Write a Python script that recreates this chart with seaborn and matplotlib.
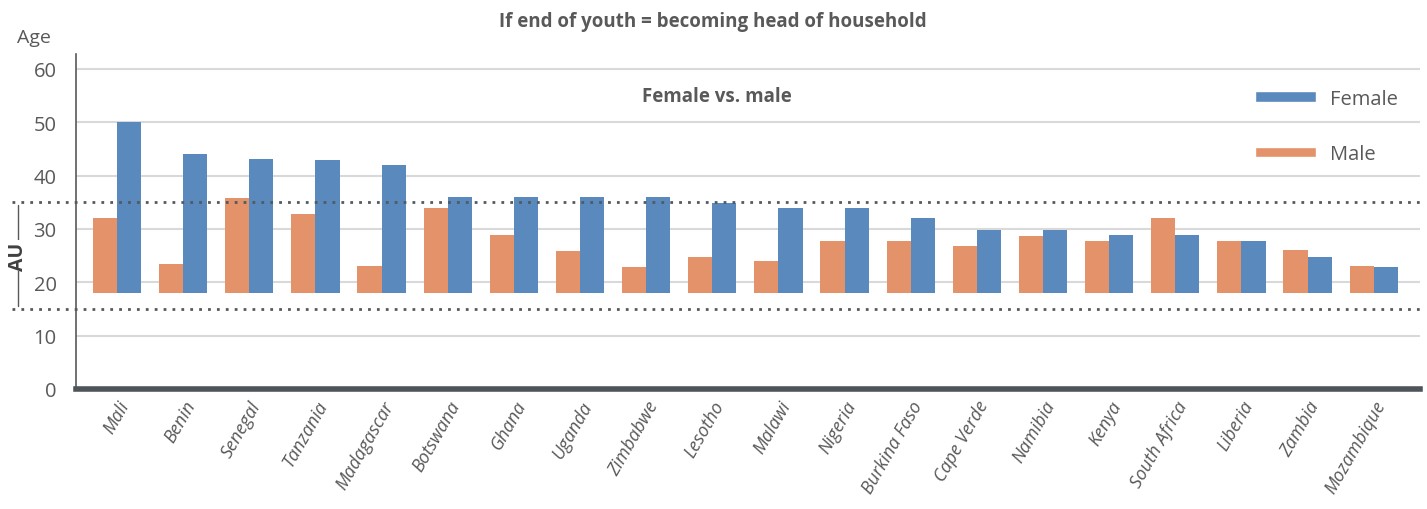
import matplotlib
matplotlib.use("Agg")
import matplotlib.pyplot as plt
import matplotlib.transforms as mtransforms
from matplotlib.patches import Patch
import seaborn as sns
import pandas as pd

# values (ages)
countries = ["Mali", "Benin", "Senegal", "Tanzania", "Madagascar", "Botswana", "Ghana",
             "Uganda", "Zimbabwe", "Lesotho", "Malawi", "Nigeria", "Burkina Faso",
             "Cape Verde", "Namibia", "Kenya", "South Africa", "Liberia", "Zambia", "Mozambique"]
male = [32, 23.5, 35.8, 32.8, 23, 34, 28.8, 25.8, 22.8, 24.8, 24, 27.7, 27.8,
        26.9, 28.6, 27.8, 32.1, 27.8, 26, 23]
female = [50, 44.1, 43.1, 43, 42, 36, 36, 36, 36, 34.8, 34, 34, 32,
          29.9, 29.9, 28.8, 28.8, 27.8, 24.8, 22.8]
bar_start = 18          # bars float from this age
au_range = [15, 35]     # AU youth definition
y_ticks = [0, 10, 20, 30, 40, 50, 60]

blue = "#5A89BD"
orange = "#E3926A"
grey = "#595959"

df = pd.DataFrame({
    "country": countries * 2,
    "sex": ["Male"] * len(countries) + ["Female"] * len(countries),
    "age": male + female,
})
df["span"] = df["age"] - bar_start

sns.set_style("white")
plt.rcParams["font.family"] = ["Open Sans", "DejaVu Sans"]

fig = plt.figure(figsize=(14.27, 5.10), dpi=100)
ax = fig.add_axes([76 / 1427, 1 - 390 / 510, (1420 - 76) / 1427, (390 - 55) / 510])

sns.barplot(data=df, x="country", y="span", hue="sex", hue_order=["Male", "Female"],
            palette={"Male": orange, "Female": blue}, width=0.73, bottom=bar_start,
            saturation=1, linewidth=0, edgecolor="none", gap=0,
            ax=ax, legend=False, zorder=3)

ax.set_ylim(0, 62.8)
ax.set_xlim(-0.62, len(countries) - 0.3)
ax.set_yticks(y_ticks)
ax.yaxis.grid(True, color="#D9D9D9", linewidth=1.5, zorder=0)
ax.set_axisbelow(True)
ax.set_xlabel("")
ax.set_ylabel("")
ax.tick_params(axis="y", labelsize=14.5, colors=grey, length=0, pad=14)
ax.tick_params(axis="x", length=0, pad=6)
plt.setp(ax.get_xticklabels(), rotation=60, ha="right", rotation_mode="anchor",
         style="italic", fontsize=13, color=grey)

for side in ["top", "right"]:
    ax.spines[side].set_visible(False)
ax.spines["left"].set_color(grey)
ax.spines["left"].set_linewidth(1.2)
ax.spines["bottom"].set_color("#4D545A")
ax.spines["bottom"].set_linewidth(4)

# AU range dotted lines, extended to the left margin
trans = mtransforms.blended_transform_factory(fig.transFigure, ax.transData)
for y in au_range:
    ax.plot([12 / 1427, 1420 / 1427], [y, y], transform=trans, color="#505A62",
            linestyle=(0, (1, 2.2)), linewidth=2, clip_on=False, zorder=4)
ax.plot([18 / 1427, 18 / 1427], [au_range[0] + 0.6, au_range[1] - 0.6], transform=trans,
        color=grey, linewidth=1, clip_on=False)
ax.text(18 / 1427, sum(au_range) / 2, "AU", transform=trans, rotation=90, ha="center",
        va="center", fontsize=14, fontweight="bold", color="#404040",
        bbox=dict(facecolor="white", edgecolor="none", pad=1))

fig.text(713 / 1427, 1 - 22 / 510, "If end of youth = becoming head of household",
         ha="center", va="center", fontsize=13.5, fontweight="bold", color=grey)
fig.text(34 / 1427, 1 - 38 / 510, "Age", ha="center", va="center", fontsize=14, color=grey)
ax.text(0.477, 0.875, "Female vs. male", transform=ax.transAxes, ha="center",
        va="center", fontsize=13.5, fontweight="bold", color=grey)

handles = [Patch(facecolor=blue, label="Female"), Patch(facecolor=orange, label="Male")]
leg = ax.legend(handles=handles, loc="upper right", bbox_to_anchor=(0.997, 0.95),
                frameon=False, fontsize=14.5, handlelength=3.0, handleheight=0.45,
                labelspacing=1.75, handletextpad=0.7)
for t in leg.get_texts():
    t.set_color(grey)

fig.savefig("out.png", dpi=100, facecolor="white")
